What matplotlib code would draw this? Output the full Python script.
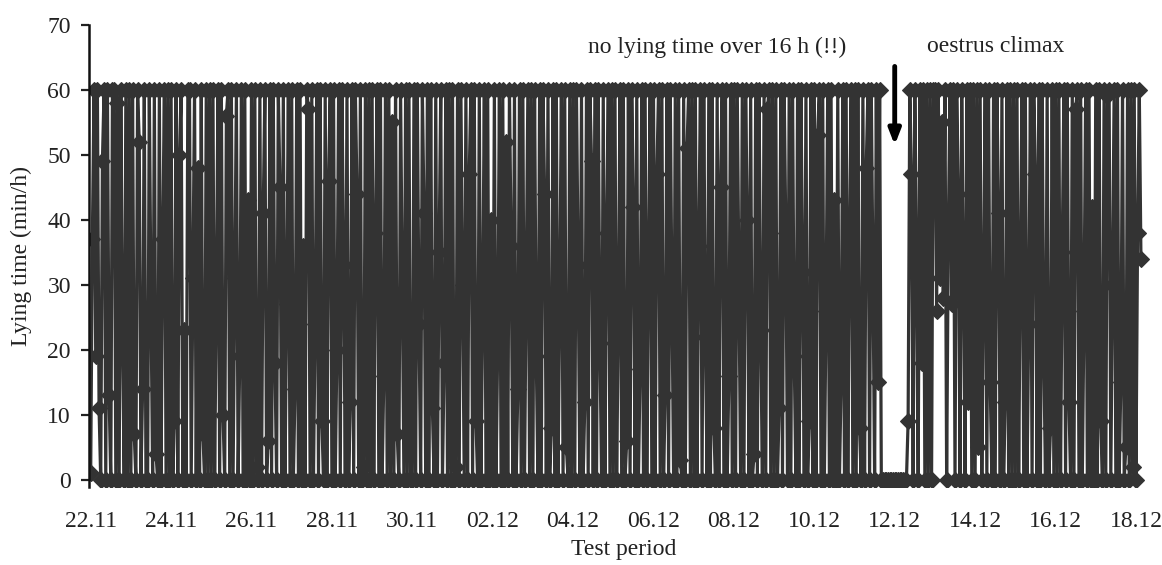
import matplotlib.pyplot as plt

plt.rcParams['font.family'] = ['Liberation Serif', 'DejaVu Serif']

# hourly lying time (min/h), one list per day, starting 22.11 00:00
nov22 = [1, 37, 60, 19, 60, 11, 0, 49, 60, 0, 60, 13, 0, 60, 60, 0, 58, 0, 60, 22, 0, 60, 0, 60]
nov23 = [0, 60, 7, 0, 60, 52, 0, 14, 60, 0, 0, 60, 27, 0, 60, 4, 0, 60, 0, 37, 60, 0, 60, 0]
nov24 = [60, 0, 9, 60, 0, 50, 60, 0, 23, 0, 60, 60, 0, 31, 60, 0, 48, 0, 60, 7, 0, 60, 0, 60]
nov25 = [0, 60, 0, 28, 60, 0, 60, 10, 0, 56, 60, 0, 60, 0, 31, 60, 0, 19, 60, 0, 60, 0, 43, 0]
nov26 = [60, 0, 60, 2, 0, 60, 0, 41, 60, 0, 6, 60, 0, 60, 18, 0, 60, 45, 0, 60, 0, 27, 60, 0]
nov27 = [60, 0, 14, 60, 0, 60, 0, 36, 0, 60, 57, 0, 60, 0, 24, 60, 0, 60, 9, 0, 60, 0, 46, 60]
nov28 = [0, 60, 0, 20, 60, 0, 60, 33, 0, 60, 0, 12, 60, 0, 60, 44, 0, 60, 0, 2, 60, 0, 60, 0]
nov29 = [60, 0, 38, 60, 0, 60, 0, 16, 60, 0, 60, 0, 55, 0, 60, 7, 0, 60, 29, 0, 60, 0, 60, 0]
nov30 = [0, 60, 0, 60, 24, 0, 60, 41, 0, 60, 0, 60, 11, 0, 60, 0, 35, 60, 0, 18, 60, 0, 60, 0]
dec01 = [60, 0, 2, 60, 0, 60, 30, 0, 60, 0, 47, 60, 0, 60, 9, 0, 60, 0, 26, 60, 0, 60, 0, 40]
dec02 = [0, 60, 0, 21, 60, 0, 60, 0, 52, 0, 60, 36, 0, 60, 0, 14, 60, 0, 60, 0, 31, 60, 0, 60]
dec03 = [0, 60, 19, 0, 60, 0, 60, 44, 0, 60, 0, 8, 60, 0, 60, 0, 27, 60, 0, 60, 5, 0, 60, 0]
dec04 = [60, 0, 60, 33, 0, 60, 0, 12, 60, 0, 60, 49, 0, 60, 0, 60, 21, 0, 60, 0, 38, 60, 0, 60]
dec05 = [0, 60, 0, 25, 60, 0, 60, 0, 6, 60, 0, 60, 42, 0, 60, 0, 17, 60, 0, 60, 0, 33, 60, 0]
dec06 = [60, 0, 47, 60, 0, 60, 0, 13, 60, 0, 60, 28, 0, 60, 0, 60, 3, 0, 60, 0, 51, 60, 0, 60]
dec07 = [0, 60, 0, 36, 60, 0, 60, 22, 0, 60, 0, 60, 8, 0, 60, 0, 45, 60, 0, 60, 0, 16, 60, 0]
dec08 = [60, 0, 60, 29, 0, 60, 0, 60, 40, 0, 60, 0, 4, 60, 0, 60, 23, 0, 60, 0, 57, 60, 0, 60]
dec09 = [0, 60, 0, 11, 60, 0, 60, 38, 0, 60, 0, 60, 19, 0, 60, 0, 60, 32, 0, 60, 0, 9, 60, 0]
dec10 = [60, 0, 53, 60, 0, 60, 0, 26, 60, 0, 60, 0, 43, 0, 60, 0, 15, 60, 0, 60, 0, 37, 60, 0]
dec11 = [60, 0, 60, 8, 0, 60, 0, 48, 60, 0, 60, 32, 0, 60, 15, 60, 0, 0, 0, 0, 0, 0, 0, 0]
dec12 = [0, 0, 0, 0, 0, 0, 0, 0, 9, 60, 47, 0, 60, 34, 0, 60, 18, 60, 0, 60, 0, 60, 0, 60]
dec13 = [60, 26, 60, 31, 55, 28, 60, 0, 38, 60, 27, 60, 0, 60, 44, 0, 60, 33, 0, 60, 12, 60, 0, 60]
dec14 = [0, 60, 5, 60, 0, 29, 60, 0, 60, 15, 0, 60, 0, 60, 41, 0, 60, 0, 12, 60, 0, 60, 0, 60]
dec15 = [0, 60, 0, 33, 60, 0, 60, 0, 24, 60, 0, 60, 47, 0, 60, 0, 60, 19, 0, 60, 0, 8, 60, 0]
dec16 = [60, 0, 60, 0, 35, 60, 0, 60, 12, 0, 60, 0, 57, 60, 0, 60, 0, 26, 60, 0, 60, 0, 42, 0]
dec17 = [60, 0, 60, 9, 0, 60, 0, 59, 60, 0, 30, 60, 0, 60, 0, 15, 60, 0, 5, 60, 0, 60, 2, 60]
dec18 = [0, 38, 60, 34]

days = [nov22, nov23, nov24, nov25, nov26, nov27, nov28, nov29, nov30, dec01,
        dec02, dec03, dec04, dec05, dec06, dec07, dec08, dec09, dec10, dec11,
        dec12, dec13, dec14, dec15, dec16, dec17, dec18]

tick_labels = ['22.11', '24.11', '26.11', '28.11', '30.11', '02.12', '04.12',
               '06.12', '08.12', '10.12', '12.12', '14.12', '16.12', '18.12']

lying = [v for d in days for v in d]
hours = list(range(len(lying)))

fig = plt.figure(figsize=(11.62, 5.65), dpi=100)
ax = fig.add_axes([0.0766, 0.138, 0.9197, 0.818])

ax.plot(hours, lying, color='#333333', lw=2.3, marker='D', ms=8.5,
        mfc='#333333', mec='#333333', mew=0.8)

ax.set_xlim(-1, 637)
ax.set_ylim(-1.1, 70)
ax.set_yticks(range(0, 71, 10))
ax.set_xticks([48 * i for i in range(len(tick_labels))])
ax.set_xticklabels(tick_labels)

for s in ['top', 'right', 'bottom']:
    ax.spines[s].set_visible(False)
ax.spines['left'].set_linewidth(1.8)
ax.spines['left'].set_color('#111111')

ax.tick_params(axis='y', direction='out', length=6, width=1.6, pad=7, labelsize=17, colors='#222222')
ax.tick_params(axis='x', length=0, pad=17, labelsize=17, colors='#222222')

ax.set_xlabel('Test period', fontsize=17, labelpad=5, color='#222222')
ax.set_ylabel('Lying time (min/h)', fontsize=17, labelpad=11, color='#222222')

ax.text(374, 66.6, 'no lying time over 16 h (!!)', fontsize=17, ha='center', va='center', color='#222222')
ax.text(540, 66.6, 'oestrus climax', fontsize=17, ha='center', va='center', color='#222222')
ax.annotate('', xy=(480, 51.5), xytext=(480, 63.6),
            arrowprops=dict(arrowstyle='-|>,head_width=0.35,head_length=0.9',
                            lw=3.5, color='black', shrinkA=0, shrinkB=0),
            annotation_clip=False)

fig.savefig('out.png', dpi=100)
